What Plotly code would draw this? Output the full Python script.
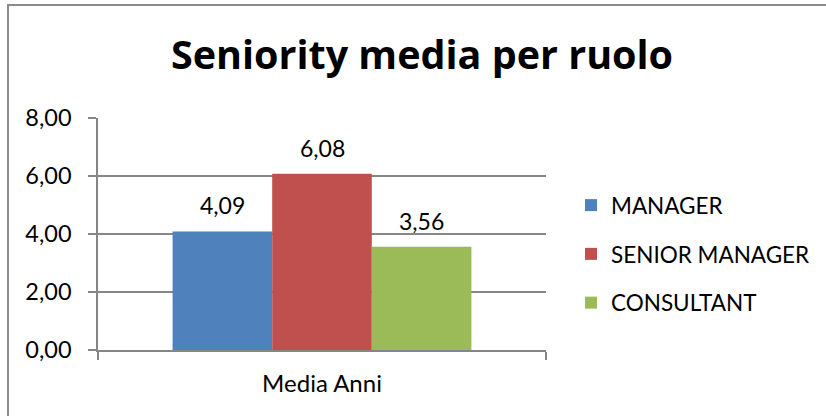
import plotly.graph_objects as go

categories = ["Media Anni"]
series_names = ["MANAGER", "SENIOR MANAGER", "CONSULTANT"]
values = [4.09, 6.08, 3.56]
colors = ["#4F81BD", "#C0504D", "#9BBB59"]
y_ticks = [0, 2, 4, 6, 8]
title_text = "Seniority media per ruolo"

W, H = 826, 416
ML, MR, MT, MB = 98, 280, 118, 66
PW, PH = W - ML - MR, H - MT - MB
FONT = "Lato, Calibri, sans-serif"
TFONT = "'Open Sans', Calibri, sans-serif"
GRID = "#868686"
BARGAP = 0.333

fig = go.Figure()
for i, (name, v, c) in enumerate(zip(series_names, values, colors)):
    fig.add_trace(go.Bar(
        x=categories, y=[v], name=name, marker=dict(color=c, line=dict(width=0)),
        legendgroup=name,
    ))

# data labels above each bar
n = len(values)
bw = (1 - BARGAP) / n
for i, v in enumerate(values):
    fig.add_annotation(
        x=(i - (n - 1) / 2) * bw, y=v, xref="x", yref="y",
        text=f"{v:.2f}".replace(".", ","), showarrow=False,
        yanchor="bottom", yshift=10,
        font=dict(family=FONT, size=23, color="#000000"),
    )


def px_x(p):
    return (p - ML) / PW


def px_y(p):
    return (H - MB - p) / PH


# chart border (outer frame)
fig.add_shape(type="rect", xref="paper", yref="paper",
              x0=px_x(8), x1=px_x(840), y0=px_y(5), y1=px_y(430),
              line=dict(color="#8C8C8C", width=2), fillcolor="rgba(0,0,0,0)")

fig.update_layout(
    width=W, height=H,
    margin=dict(l=ML, r=MR, t=MT, b=MB, autoexpand=False),
    paper_bgcolor="white", plot_bgcolor="white",
    separators=",.",
    barmode="group", bargap=BARGAP, bargroupgap=0,
    title=dict(text=f"<b>{title_text}</b>", x=422 / W, xanchor="center",
               y=1 - 55 / H, yanchor="middle",
               font=dict(family=TFONT, size=39.5, color="#000000")),
    font=dict(family=FONT, size=23, color="#000000"),
    showlegend=True,
    legend=dict(x=px_x(571), y=px_y(184), xanchor="left", yanchor="top",
                font=dict(family=FONT, size=22.5, color="#000000"),
                traceorder="grouped", tracegroupgap=16.5,
                bgcolor="rgba(0,0,0,0)", itemclick=False),
    xaxis=dict(
        showgrid=False, showline=True, linecolor=GRID, linewidth=1.5,
        ticks="outside", tickson="boundaries", ticklen=8, tickcolor=GRID, tickwidth=1.5,
        tickfont=dict(family=FONT, size=24, color="#000000"),
        ticklabelstandoff=11, fixedrange=True,
    ),
    yaxis=dict(
        range=[0, 8], tickvals=y_ticks, tickformat=".2f",
        showgrid=True, gridcolor=GRID, gridwidth=1.5,
        showline=True, linecolor=GRID, linewidth=1.5,
        ticks="outside", ticklen=8, tickcolor=GRID, tickwidth=1.5,
        tickfont=dict(family=FONT, size=23.5, color="#000000"),
        ticklabelstandoff=12, zeroline=False, fixedrange=True,
    ),
)

fig.write_html("out.html", config={"displayModeBar": False},
               post_script="document.body.style.margin='0';")
